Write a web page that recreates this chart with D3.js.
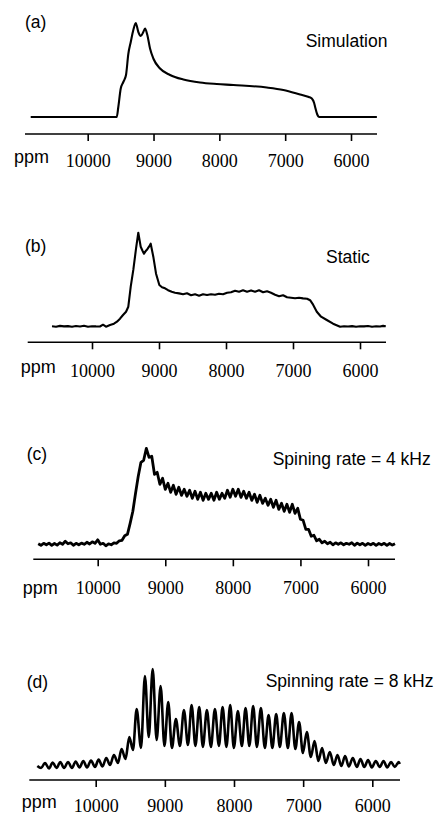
<!DOCTYPE html>
<html>
<head>
<meta charset="utf-8">
<script src="https://cdn.jsdelivr.net/npm/d3@7"></script>
<style>
  html, body { margin: 0; padding: 0; background: #fff; }
  svg { display: block; }
</style>
</head>
<body>
<svg id="chart" width="435" height="815"></svg>
<script>
// ---------------- DATA (ppm, intensity) ----------------
const tickValues = [10000, 9000, 8000, 7000, 6000];
const panelLetters = ["(a)", "(b)", "(c)", "(d)"];
const panelTitles = ["Simulation", "Static", "Spining rate = 4 kHz", "Spinning rate = 8 kHz"];
const axisUnit = "ppm";

const simulation = [
  [10866,0],[9559,0],[9535,10],[9498,28.5],[9459,35],[9418,42],[9383,63],[9346,75],
  [9307,87],[9270,94],[9231,85],[9194,81],[9155,85],[9129,88.5],[9094,82],[9053,68.5],
  [9003,58.5],[8901,48.5],[8749,42],[8547,37.5],[8294,34.5],[8039,33],[7787,32],
  [7279,29.5],[7027,27],[6773,22.5],[6640,20],[6595,18.5],[6560,14],[6545,10],
  [6515,3],[6495,0.5],[6480,0],[5607,0]
];

const staticSpec = [
  [10597,0.5],[10537,0],[10478,0.8],[10418,0.3],[10358,0.6],[10299,0],[10239,0.7],[10179,0.2],
  [10119,0.9],[10060,0],[10000,0.5],[9940,0.3],[9881,0.2],[9836,2],[9791,0],[9731,1.7],
  [9672,3],[9627,5],[9582,8],[9537,11.7],[9492,15],[9458,20],[9422,40],[9383,57],[9343,78],
  [9309,94],[9273,80],[9246,76],[9224,73],[9194,76],[9174,77.5],[9149,80],[9124,83],[9085,70],
  [9044,53],[8995,41.7],[8955,39.5],[8910,38.4],[8865,36.5],[8810,35],[8761,34],[8701,33.3],
  [8641,32.5],[8582,33.5],[8522,31.5],[8462,32.5],[8402,31],[8343,32.5],[8283,31.7],[8223,32.5],
  [8164,32],[8104,33],[8044,32.5],[7984,34],[7925,34.5],[7865,36],[7805,35],[7746,36.5],
  [7686,35],[7626,36.3],[7566,35],[7507,36.5],[7447,34.5],[7387,35.5],[7328,34],[7268,32],
  [7208,30.5],[7148,31.5],[7089,29.5],[7029,29],[6969,28.5],[6910,29],[6850,28.3],[6790,28],
  [6745,26.5],[6700,22],[6645,15],[6581,10],[6496,6.7],[6402,3],[6297,0],[6238,0.5],
  [6178,0.2],[6118,0.6],[6059,0],[5999,0.5],[5939,0.3],[5880,0.7],[5820,0],[5760,0.4],
  [5700,0.2],[5655,0.8],[5615,0.4]
];

const spin4k = [
  [10880,0.5],[10840,-1],[10800,1],[10760,-0.5],[10720,1.2],[10680,-1],[10640,0.8],[10600,-0.8],
  [10560,1.5],[10520,0],[10480,3],[10440,0.5],[10400,1.5],[10360,-1],[10320,1],[10280,-0.5],
  [10240,1.2],[10200,0],[10160,2],[10120,0.3],[10080,2.5],[10040,1],[10000,4.5],[9960,0],
  [9920,1],[9880,-1.5],[9840,0.5],[9800,-0.5],[9760,1.5],[9720,1],[9680,3.5],[9640,4],
  [9600,8.5],[9560,10],[9520,21],[9480,33],[9440,51],[9400,68],[9360,82],[9320,84],
  [9280,96],[9240,87],[9200,88],[9160,70],[9120,72],[9080,60],[9040,66],[9000,55],
  [8960,61],[8920,52],[8880,59],[8840,50],[8800,57],[8760,49],[8720,55],[8680,48],
  [8640,54],[8600,46],[8560,53],[8520,45],[8480,52],[8440,44],[8400,51],[8360,45],
  [8320,51],[8280,44],[8240,52],[8200,45],[8160,51],[8120,46],[8080,54],[8040,47],
  [8000,55],[7960,48],[7920,55],[7880,47],[7840,53],[7800,46],[7760,52],[7720,44],
  [7680,50],[7640,42],[7600,49],[7560,41],[7520,46],[7480,39],[7440,45],[7400,37],
  [7360,44],[7320,35],[7280,41],[7240,33],[7200,40],[7160,32],[7120,40],[7080,31],
  [7040,36],[7000,25],[6960,24],[6920,15],[6880,15],[6840,8],[6800,9],[6760,3.5],
  [6720,5],[6680,1.5],[6640,3],[6600,0.5],[6560,2],[6520,-0.5],[6480,1.5],[6440,0],
  [6400,1.5],[6360,-0.5],[6320,1],[6280,0],[6240,1.5],[6200,-1],[6160,1.2],[6120,-0.5],
  [6080,1],[6040,-1],[6000,0.8],[5960,-0.5],[5920,1],[5880,-1],[5840,0.8],[5800,-0.5],
  [5760,1],[5720,-1],[5680,0.8],[5640,-0.8],[5600,0.5]
];

const spin8k = [
  [10844,-1],[10790,-3],[10733,2],[10675,-3.5],[10623,2.5],[10566,-3],[10512,3],[10458,-3],
  [10400,3],[10343,-3],[10290,3.5],[10234,-2.5],[10179,4],[10126,-2.5],[10068,4.5],[10010,-2],
  [9958,5.5],[9902,-1.5],[9847,7],[9793,0],[9736,10],[9678,2],[9626,16],[9569,6],
  [9514,28],[9461,15],[9408,56],[9345,17],[9288,89],[9233,28],[9176,96],[9119,25],
  [9061,79],[9006,19],[8951,63],[8898,17],[8840,46],[8782,19],[8724,55],[8666,20],
  [8613,60],[8558,19],[8503,58],[8450,18],[8392,55],[8334,18],[8276,56],[8218,19],
  [8165,58],[8110,18],[8055,60],[8002,17],[7944,54],[7886,19],[7833,57],[7778,19],
  [7723,59],[7669,18],[7611,57],[7554,17],[7500,50],[7445,17],[7390,51],[7337,18],
  [7279,52],[7221,17],[7168,52],[7113,16],[7058,43],[7004,12],[6947,33],[6889,8],
  [6835,24],[6780,4],[6726,17],[6672,2],[6614,13],[6557,0],[6503,10],[6448,-1],
  [6393,9],[6340,-1.5],[6282,7],[6224,-2],[6171,6],[6116,-2],[6061,5],[6007,-2.5],
  [5950,4],[5892,-2],[5838,4],[5784,-2.5],[5729,3],[5675,-2],[5617,3],[5603,1]
];

// ---------------- LAYOUT ----------------
const layout = [
  { data: simulation, x10k: 87.7, x6k: 351, axisL: 25, axisR: 377, axisY: 134, baseY: 117, sw: 2.1,
    curve: d3.curveMonotoneX, letter: [25, 28.3], title: [305.7, 47.3], tickDy: 32.7, ppm: [14, 162.7] },
  { data: staticSpec, x10k: 92, x6k: 360, axisL: 27.7, axisR: 386, axisY: 342.3, baseY: 326.7, sw: 2.1,
    curve: d3.curveLinear, letter: [25, 251.7], title: [326, 262.7], tickDy: 34.4, ppm: [20.7, 372.5] },
  { data: spin4k, x10k: 97.7, x6k: 368, axisL: 33.3, axisR: 395, axisY: 559.3, baseY: 544.3, sw: 2.8,
    curve: d3.curveLinear, letter: [26.7, 460], title: [272.7, 465], tickDy: 35, ppm: [22.7, 594] },
  { data: spin8k, x10k: 95.7, x6k: 372.3, axisL: 29.3, axisR: 400, axisY: 780, baseY: 765, sw: 2.6,
    curve: d3.curveMonotoneX, letter: [26.7, 688.3], title: [265.7, 687.3], tickDy: 31.5, ppm: [21.7, 808] }
];

const svg = d3.select("#chart");
const sans = "'Liberation Sans', Arial, Helvetica, sans-serif";
const serif = "'Liberation Serif', 'Times New Roman', Times, serif";

layout.forEach((p, i) => {
  const x = d3.scaleLinear().domain([10000, 6000]).range([p.x10k, p.x6k]);
  const y = d3.scaleLinear().domain([0, 100]).range([p.baseY, p.baseY - 100]);
  const g = svg.append("g");

  // spectrum
  g.append("path")
    .datum(p.data)
    .attr("fill", "none")
    .attr("stroke", "#000")
    .attr("stroke-width", p.sw)
    .attr("stroke-linejoin", "round")
    .attr("d", d3.line().x(d => x(d[0])).y(d => y(d[1])).curve(p.curve));

  // axis
  const ax = g.append("g")
    .attr("transform", `translate(0,${p.axisY})`)
    .call(d3.axisBottom(x).tickValues(tickValues).tickSize(7).tickSizeOuter(0).tickFormat(d => String(d)));
  ax.select(".domain").remove();
  ax.selectAll(".tick line").attr("stroke", "#000").attr("stroke-width", 1.6);
  ax.selectAll(".tick text")
    .attr("y", p.tickDy).attr("dy", 0)
    .attr("font-family", serif).attr("font-size", 18).attr("fill", "#000");
  ax.append("line")
    .attr("x1", p.axisL).attr("x2", p.axisR)
    .attr("y1", 0).attr("y2", 0)
    .attr("stroke", "#000").attr("stroke-width", 1.6);

  // ppm unit
  g.append("text").attr("x", p.ppm[0]).attr("y", p.ppm[1])
    .attr("font-family", sans).attr("font-size", 18).text(axisUnit);

  // panel letter
  g.append("text").attr("x", p.letter[0]).attr("y", p.letter[1])
    .attr("font-family", sans).attr("font-size", 17.5).text(panelLetters[i]);

  // title
  g.append("text").attr("x", p.title[0]).attr("y", p.title[1])
    .attr("font-family", sans).attr("font-size", 17.5).text(panelTitles[i]);
});
</script>
</body>
</html>
